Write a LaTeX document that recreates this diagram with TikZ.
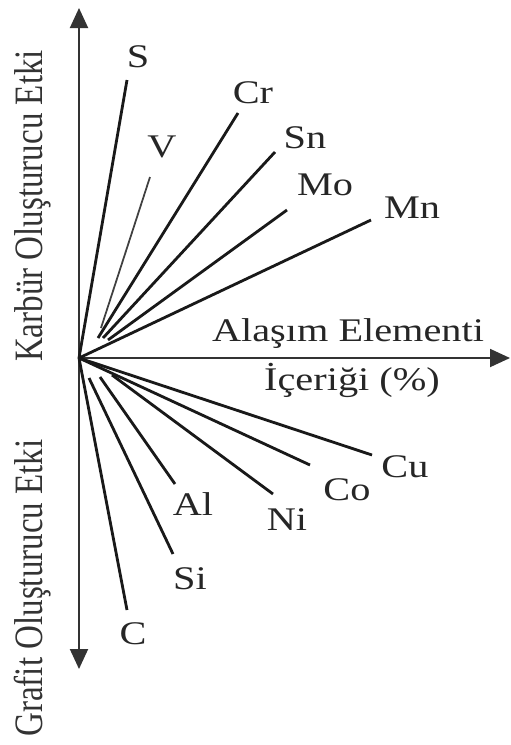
\documentclass[tikz,border=0pt]{standalone}
\usepackage{fontspec}
\setmainfont{Liberation Serif}
\usetikzlibrary{arrows.meta}

\begin{document}
\begin{tikzpicture}[
  x=0.02cm, y=-0.02cm,
  axtip/.tip={Triangle[length=4mm,width=3.6mm]},
  axis/.style={line width=1.1pt, draw=black!80},
  ray/.style={line width=1.6pt, draw=black!90},
  thinray/.style={line width=1pt, draw=black!75},
  elem/.style={font=\fontsize{18.8}{21}\selectfont, text=black!85, xscale=1.22, inner sep=0pt},
  ttl/.style={font=\fontsize{18.8}{21}\selectfont, text=black!80, rotate=90, yscale=1.22, inner sep=0pt}
]
\useasboundingbox (0,0) rectangle (511,745);

% Eksenler
\coordinate (O)   at (79,358);
\coordinate (top) at (79,8);
\coordinate (bot) at (79,669);
\coordinate (rgt) at (510,358);
\draw[axis, axtip-axtip] (top) -- (bot);
\draw[axis, -axtip] (O) -- (rgt);

\node[ttl] (karbur) at (33,206) {Karbür Oluşturucu Etki};
\node[ttl] (grafit) at (33,588) {Grafit Oluşturucu Etki};
\node[elem] (alasim) at (348,334) {Alaşım Elementi};
\node[elem] (icerik) at (352,380) {İçeriği (\%)};

% Karbür oluşturucu elementler
\coordinate (S1)  at (127,80);
\coordinate (V0)  at (101,328);  \coordinate (V1)  at (150,177);
\coordinate (Cr0) at (98,338);   \coordinate (Cr1) at (238,113);
\coordinate (Sn0) at (103,338);  \coordinate (Sn1) at (275,152);
\coordinate (Mo0) at (108,340);  \coordinate (Mo1) at (287,210);
\coordinate (Mn1) at (371,220);

\draw[ray]     (O)   -- (S1);
\draw[thinray] (V0)  -- (V1);
\draw[ray]     (Cr0) -- (Cr1);
\draw[ray]     (Sn0) -- (Sn1);
\draw[ray]     (Mo0) -- (Mo1);
\draw[ray]     (O)   -- (Mn1);

\node[elem] (S)  at (138,57)  {S};
\node[elem] (V)  at (162,147) {V};
\node[elem] (Cr) at (253,93)  {Cr};
\node[elem] (Sn) at (305,138) {Sn};
\node[elem] (Mo) at (325,185) {Mo};
\node[elem] (Mn) at (412,208) {Mn};

% Grafit oluşturucu elementler
\coordinate (Cu1) at (372,455);
\coordinate (Co1) at (310,465);
\coordinate (Ni0) at (112,375);  \coordinate (Ni1) at (273,494);
\coordinate (Al0) at (100,377);  \coordinate (Al1) at (175,484);
\coordinate (Si0) at (89,378);   \coordinate (Si1) at (173,554);
\coordinate (C1)  at (127,610);

\draw[ray] (O)   -- (Cu1);
\draw[ray] (O)   -- (Co1);
\draw[ray] (Ni0) -- (Ni1);
\draw[ray] (Al0) -- (Al1);
\draw[ray] (Si0) -- (Si1);
\draw[ray] (O)   -- (C1);

\node[elem] (Cu) at (405,467) {Cu};
\node[elem] (Co) at (347,490) {Co};
\node[elem] (Ni) at (287,520) {Ni};
\node[elem] (Al) at (193,504) {Al};
\node[elem] (Si) at (190,579) {Si};
\node[elem] (C)  at (133,634) {C};
\end{tikzpicture}
\end{document}
